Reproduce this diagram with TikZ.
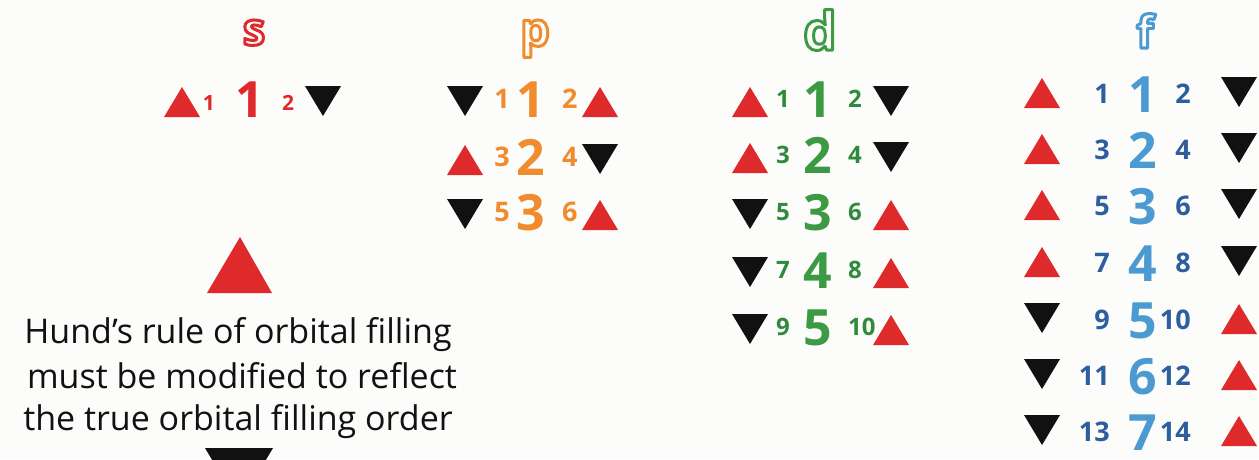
\documentclass[tikz,border=0pt]{standalone}
\usepackage{fontspec}
\setmainfont{Open Sans}
\usetikzlibrary{calc}
\definecolor{cred}{HTML}{DE2A2A}
\definecolor{cblk}{HTML}{111111}
\definecolor{corg}{HTML}{F08C2E}
\definecolor{cgrn}{HTML}{3C9A44}
\definecolor{cgrnd}{HTML}{2E8A3C}
\definecolor{cblu}{HTML}{4B9AD1}
\definecolor{cblud}{HTML}{2D5E9E}
\definecolor{bg}{HTML}{FCFCFA}
\newcommand\fsz[1]{\fontsize{#1}{#1}\selectfont}
\newcommand\outl[1]{\special{pdf:code 1 Tr 3 w 1 j}#1\special{pdf:code 0 Tr}}
% triangle: x centre, baseline, u/d
\newcommand\mytri[3]{%
  \if u#3\relax
    \fill[cred] (#1-18,#2) -- (#1+18,#2) -- (#1,#2-30) -- cycle;
  \else
    \fill[cblk] (#1-18,#2-31) -- (#1+18,#2-31) -- (#1,#2-1) -- cycle;
  \fi}
\begin{document}
\begin{tikzpicture}[x=1pt,y=-1pt,
  lettr/.style={anchor=base, inner sep=0pt},
  big/.style={font=\fsz{50}\bfseries, anchor=base, inner sep=0pt},
  smallL/.style={anchor=base east, inner sep=0pt},
  smallR/.style={anchor=base west, inner sep=0pt},
  note/.style={font=\fsz{34}, anchor=base, inner sep=0pt, text=cblk}]
\clip (0,0) rectangle (1259,459);
\fill[bg] (0,0) rectangle (1259,459);
\useasboundingbox (0,0) rectangle (1259,459);

% column letters
\node[lettr, font=\fsz{45}\bfseries, text=cred] (ls) at (254,45) {\outl{s}};
\node[lettr, font=\fsz{47}\bfseries, text=corg] (lp) at (535,46) {\outl{p}};
\node[lettr, font=\fsz{53}\bfseries, text=cgrn] (ld) at (820,50) {\outl{d}};
\node[lettr, font=\fsz{45}\bfseries, text=cblu] (lf) at (1145,48) {\outl{f}};

% s column
\mytri{182}{117}{u}
\mytri{323}{117}{d}
\node[smallL, font=\fsz{21}\bfseries, text=cred] (s1a) at (215,110) {1};
\node[big, text=cred] (s1) at (250,117) {1};
\node[smallR, font=\fsz{21}\bfseries, text=cred] (s1b) at (282,110) {2};

% p column
\foreach \b/\l/\m/\r/\lt/\rt in {117/1/1/2/d/u, 175/3/2/4/u/d, 230/5/3/6/d/u}{
  \mytri{465}{\b}{\lt}
  \mytri{600}{\b}{\rt}
  \node[smallL, font=\fsz{27}\bfseries, text=corg] (pa\m) at (510,\b-9) {\l};
  \node[big, text=corg] (p\m) at (531,\b) {\m};
  \node[smallR, font=\fsz{27}\bfseries, text=corg] (pb\m) at (562,\b-9) {\r};
}

% d column
\foreach \b/\l/\m/\r/\lt/\rt in {117/1/1/2/u/d, 173/3/2/4/u/d, 230/5/3/6/d/u, 288/7/4/8/d/u, 345/9/5/10/d/u}{
  \mytri{750}{\b}{\lt}
  \mytri{891}{\b}{\rt}
  \node[smallL, font=\fsz{24}\bfseries, text=cgrnd] (da\m) at (790,\b-10) {\l};
  \node[big, text=cgrn] (d\m) at (818,\b) {\m};
  \node[smallR, font=\fsz{24}\bfseries, text=cgrnd] (db\m) at (848,\b-10) {\r};
}

% f column
\foreach \b/\l/\m/\r/\lt/\rt in {112/1/1/2/u/d, 168/3/2/4/u/d, 224/5/3/6/u/d, 281/7/4/8/u/d, 338/9/5/10/d/u, 394/11/6/12/d/u, 450/13/7/14/d/u}{
  \mytri{1042}{\b-4}{\lt}
  \mytri{1239}{\b-4}{\rt}
  \node[smallL, font=\fsz{27}\bfseries, text=cblud] (fa\m) at (1110,\b-9) {\l};
  \node[big, text=cblu] (f\m) at (1143,\b) {\m};
  \node[smallL, font=\fsz{27}\bfseries, text=cblud] (fb\m) at (1191,\b-9) {\r};
}

% left note
\fill[cred] (207,293) -- (272,293) -- (240,237) -- cycle;
\node[note] (t1) at (238,343) {Hund’s rule of orbital filling};
\node[note] (t2) at (242,388) {must be modified to reflect};
\node[note] (t3) at (238,430) {the true orbital filling order};
\fill[cblk] (205,448) -- (273,448) -- (239,505) -- cycle;
\end{tikzpicture}
\end{document}
